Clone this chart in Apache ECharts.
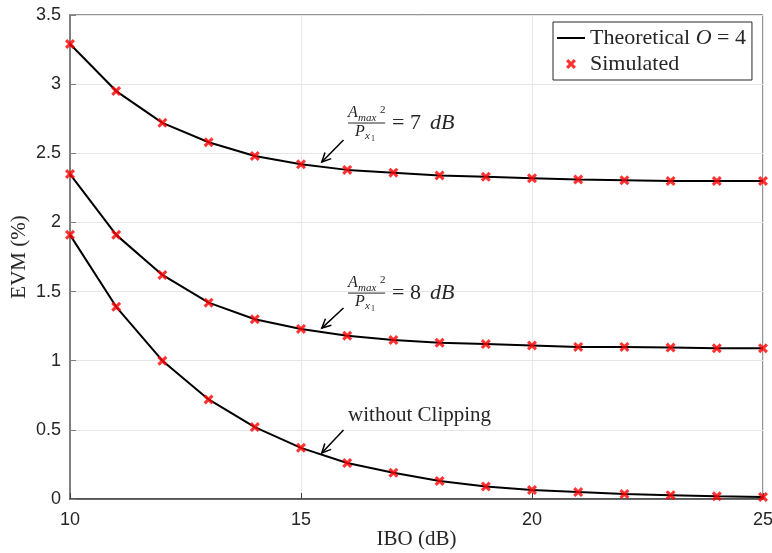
<!DOCTYPE html>
<html>
<head>
<meta charset="utf-8">
<script src="https://cdn.jsdelivr.net/npm/echarts@6/dist/echarts.min.js"></script>
<style>html,body{margin:0;padding:0;background:#fff}#c{width:772px;height:553px}</style>
</head>
<body>
<div id="c"></div>
<script>
var ibo = [10,11,12,13,14,15,16,17,18,19,20,21,22,23,24,25];
var evm7dB = [3.29,2.95,2.72,2.58,2.48,2.42,2.38,2.36,2.34,2.33,2.32,2.31,2.305,2.30,2.30,2.30];
var evm8dB = [2.35,1.91,1.62,1.42,1.30,1.23,1.18,1.15,1.13,1.12,1.11,1.10,1.10,1.095,1.09,1.09];
var evmNoClip = [1.91,1.39,1.00,0.72,0.52,0.37,0.26,0.19,0.13,0.09,0.065,0.05,0.036,0.028,0.02,0.015];
var xTicks = [10,15,20,25];
var yTicks = [0,0.5,1,1.5,2,2.5,3,3.5];

var SERIF = '"Liberation Serif","Times New Roman",serif';
var SANS = '"Liberation Sans",Arial,sans-serif';
var XSYM = 'path://M0,2.2 L2.2,0 L5,2.8 L7.8,0 L10,2.2 L7.2,5 L10,7.8 L7.8,10 L5,7.2 L2.2,10 L0,7.8 L2.8,5 Z';

function pairs(ys){ return ibo.map(function(x,i){return [x, ys[i]];}); }

var curves = [evm7dB, evm8dB, evmNoClip];
var series = [];
curves.forEach(function(c){
  series.push({name:'Theoretical O = 4', type:'line', data:pairs(c), smooth:false, symbol:'none',
    lineStyle:{color:'#000', width:2}, itemStyle:{color:'#000'}, z:2});
});
curves.forEach(function(c){
  series.push({name:'Simulated', type:'scatter', data:pairs(c), symbol:XSYM, symbolSize:10,
    itemStyle:{color:'#ff0000'}, z:3});
});

var chart = echarts.init(document.getElementById('c'));
chart.setOption({
  animation:false,
  backgroundColor:'#fff',
  grid:{left:70, right:9, top:15, bottom:54, outerBoundsMode:'none', containLabel:false, show:true, borderColor:'#262626', borderWidth:1, backgroundColor:'transparent'},
  legend:{
    data:[{name:'Theoretical O = 4', icon:'path://M0,0 L28,0 L28,2 L0,2 Z', itemStyle:{color:'#000'}},
          {name:'Simulated', icon:XSYM, itemStyle:{color:'#ff0000'}}],
    orient:'vertical', left:553, top:22, itemWidth:28, itemHeight:10, itemGap:4,
    padding:[5,6,5,4], borderColor:'#262626', borderWidth:1, backgroundColor:'#fff',
    formatter:function(n){ return n==='Theoretical O = 4' ? 'Theoretical {i|O} = 4' : n; },
    textStyle:{fontFamily:SERIF, fontSize:22, color:'#262626', rich:{i:{fontFamily:SERIF, fontStyle:'italic', fontSize:22, color:'#262626'}}}
  },
  xAxis:{type:'value', min:10, max:25, interval:5, name:'IBO (dB)', nameLocation:'middle', nameGap:30, nameMoveOverlap:false,
    nameTextStyle:{fontFamily:SERIF, fontSize:21, color:'#262626'},
    axisLine:{lineStyle:{color:'#404040', width:1.5}}, axisTick:{inside:true, length:6, lineStyle:{color:'#404040'}},
    axisLabel:{fontFamily:SANS, fontSize:18, color:'#262626', margin:12, formatter:function(v){return xTicks.indexOf(v)>=0?String(v):'';}},
    splitLine:{lineStyle:{color:'#e6e6e6'}}},
  yAxis:{type:'value', min:0, max:3.5, interval:0.5, name:'EVM (%)', nameLocation:'middle', nameGap:40, nameMoveOverlap:false,
    nameTextStyle:{fontFamily:SERIF, fontSize:21, color:'#262626'},
    axisLine:{lineStyle:{color:'#808080', width:2}}, axisTick:{inside:true, length:6, lineStyle:{color:'#808080'}},
    axisLabel:{fontFamily:SANS, fontSize:18, color:'#262626', margin:9, formatter:function(v){return yTicks.indexOf(v)>=0?String(v):'';}},
    splitLine:{lineStyle:{color:'#e6e6e6'}}},
  series:series
});

// annotations (positioned in data coordinates)
var arrows = [
  {from:[15.92,2.596], to:[15.45,2.437]},
  {from:[15.92,1.381], to:[15.45,1.236]},
  {from:[15.92,0.499], to:[15.45,0.333]}
];
var fracs = [{at:[16.02,2.719], val:'7'},{at:[16.02,1.489], val:'8'}];
var plain = {at:[16.02,0.586], text:'without Clipping'};

function px(p){ return chart.convertToPixel({gridIndex:0}, p); }
function txt(x,y,s,size,italic,va){
  return {type:'text', x:x, y:y, z:50, style:{text:s, fontFamily:SERIF, fontSize:size, fontStyle:italic?'italic':'normal',
    fill:'#262626', verticalAlign:va||'middle', align:'left'}};
}
var g = [];
arrows.forEach(function(a){
  var p0 = px(a.from), p1 = px(a.to);
  var ang = Math.atan2(p1[1]-p0[1], p1[0]-p0[0]);
  var L = 10, w = 0.45;
  g.push({type:'line', z:50, shape:{x1:p0[0],y1:p0[1],x2:p1[0],y2:p1[1]}, style:{stroke:'#000', lineWidth:1.5}});
  g.push({type:'polyline', z:50, shape:{points:[
    [p1[0]-L*Math.cos(ang-w), p1[1]-L*Math.sin(ang-w)], [p1[0],p1[1]], [p1[0]-L*Math.cos(ang+w), p1[1]-L*Math.sin(ang+w)]]},
    style:{stroke:'#000', lineWidth:1.5, fill:null}});
});
fracs.forEach(function(f){
  var p = px(f.at), bx = p[0], by = p[1];
  g.push(txt(bx, by-10, 'A', 16, true));
  g.push(txt(bx+10, by-5, 'max', 11, true));
  g.push(txt(bx+32, by-13, '2', 11, false));
  g.push({type:'line', z:50, shape:{x1:bx, y1:by, x2:bx+37, y2:by}, style:{stroke:'#262626', lineWidth:1}});
  g.push(txt(bx+7, by+9, 'P', 16, true));
  g.push(txt(bx+17, by+13, 'x', 11, true));
  g.push(txt(bx+23, by+16, '1', 8, false));
  g.push(txt(bx+44, by, '= ' + f.val, 22, false));
  g.push(txt(bx+82, by, 'dB', 22, true));
});
(function(){ var p = px(plain.at); g.push(txt(p[0], p[1]-2, plain.text, 21, false)); })();
chart.setOption({graphic:g});
</script>
</body>
</html>
